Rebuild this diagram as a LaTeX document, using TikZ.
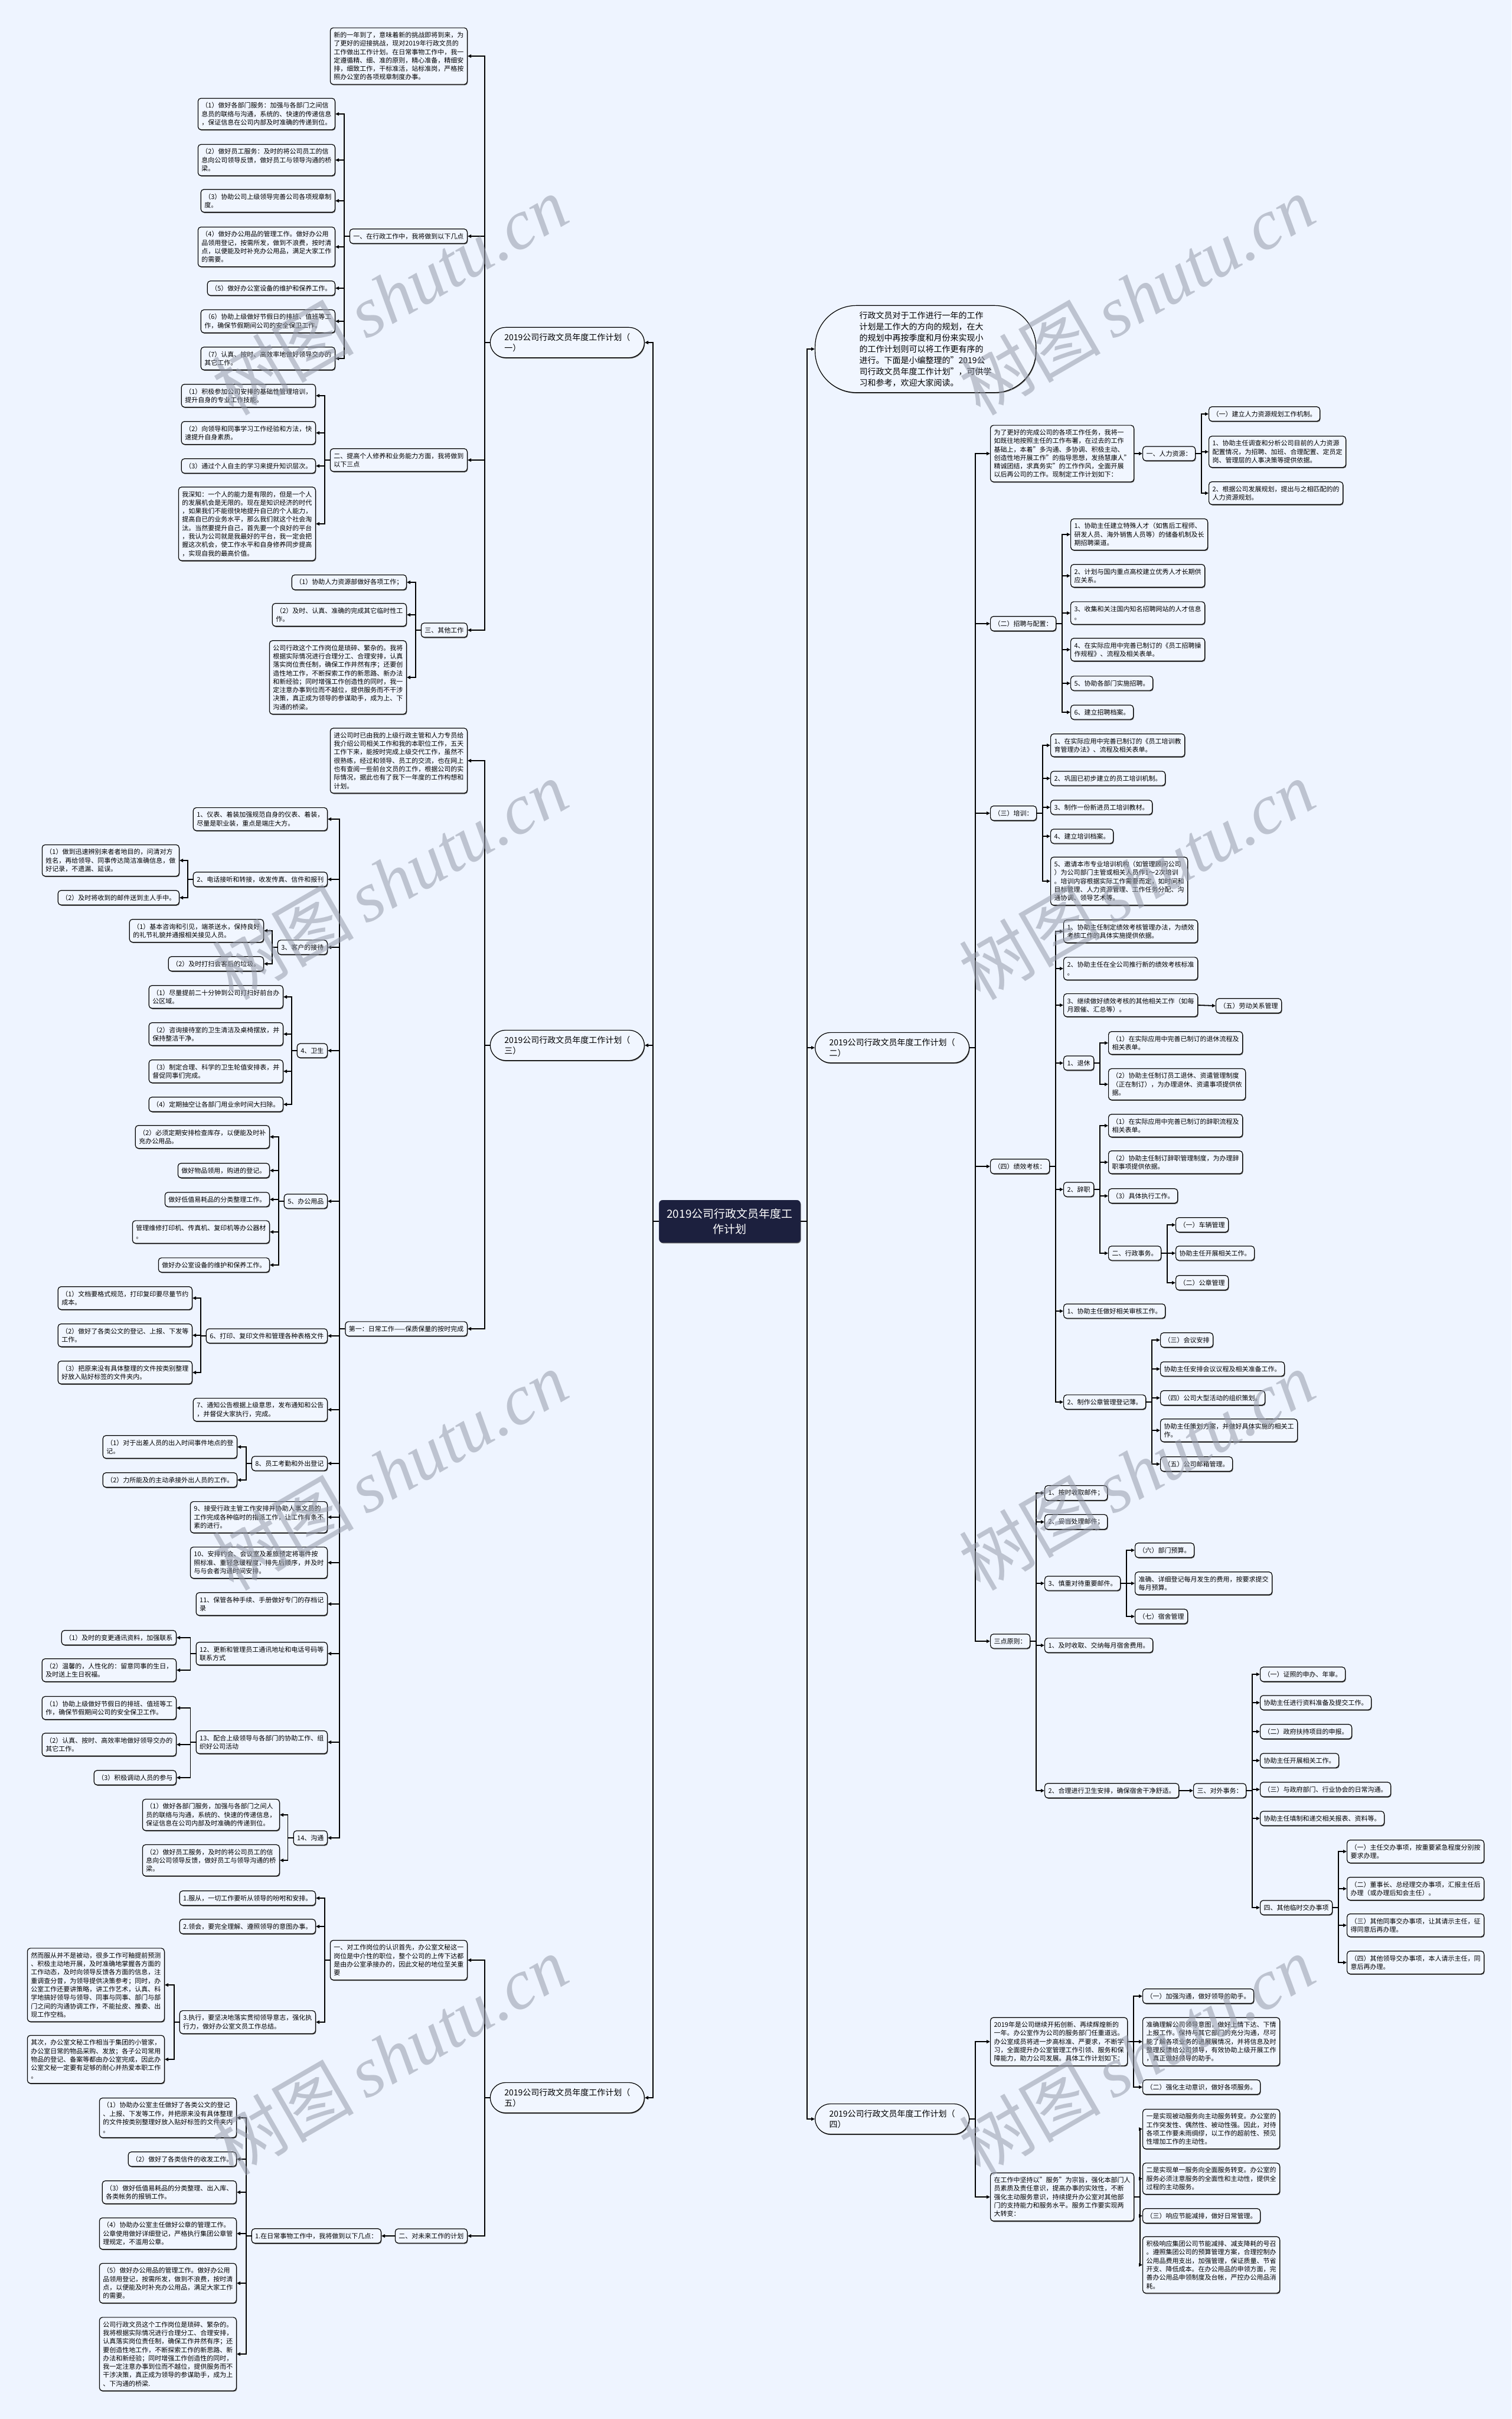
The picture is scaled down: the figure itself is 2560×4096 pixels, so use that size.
\documentclass[tikz,border=0pt]{standalone}
\usepackage{fontspec}
\setmainfont{Noto Sans CJK SC}
\newfontfamily\wmlat{Liberation Serif}
\usetikzlibrary{arrows.meta,shadows}
\definecolor{bgc}{RGB}{238,244,255}
\definecolor{nodefill}{RGB}{241,246,255}
\definecolor{rootc}{RGB}{28,32,62}
\definecolor{wmc}{RGB}{150,156,170}
\tikzset{
 box/.style={draw=black, line width=1.2pt, rounded corners=5pt, fill=nodefill, inner xsep=6pt, inner ysep=7pt, align=left, font=\fontsize{11}{14.3}\selectfont, drop shadow={shadow xshift=1pt, shadow yshift=-1.5pt, fill=black!60, opacity=1}},
 stad/.style={box, rounded corners=26pt, inner xsep=24pt, inner ysep=10pt, font=\fontsize{14}{18}\selectfont},
 rootbox/.style={draw=rootc, fill=rootc, text=white, rounded corners=6pt, inner xsep=13pt, inner ysep=14pt, align=center, font=\fontsize{19}{26}\selectfont, drop shadow={shadow xshift=1pt, shadow yshift=-1.5pt, fill=black!60, opacity=1}},
 conn/.style={line width=1.8pt, -{Triangle[length=6pt,width=5.5pt]}},
 wm/.style={rotate=30, text=wmc, opacity=0.55, font=\fontsize{120}{120}\selectfont},
}
\newcommand\Lbx[4]{\node[box,anchor=east] (#1) at (#2,#3) {#4};}
\newcommand\Rbx[4]{\node[box,anchor=west] (#1) at (#2,#3) {#4};}
\newcommand\Lcn[2]{\draw[conn] (#1.west) -- ++(-9,0) |- (#2.east);}
\newcommand\Rcn[2]{\draw[conn] (#1.east) -- ++(10,0) |- (#2.west);}
\begin{document}
\begin{tikzpicture}[x=1pt,y=-1pt]
\fill[bgc] (0,0) rectangle (2560,4096);
\useasboundingbox (0,0) rectangle (2560,4096);

% root
\node[rootbox] (root) at (1236,2068) {2019公司行政文员年度工\\作计划};

% ===== LEFT (一) =====
\node[stad,anchor=east] (L1) at (1092,580) {2019公司行政文员年度工作计划（\\一）};
\Lbx{L1a}{792}{95}{新的一年到了，意味着新的挑战即将到来，为\\了更好的迎接挑战，现对2019年行政文员的\\工作做出工作计划。在日常事物工作中，我一\\定遵循精、细、准的原则，精心准备，精细安\\排，细致工作，干标准活，站标准岗，严格按\\照办公室的各项规章制度办事。}
\Lbx{L1b}{792}{400}{一、在行政工作中，我将做到以下几点}
\Lbx{L1b1}{568}{193}{（1）做好各部门服务：加强与各部门之间信\\息员的联络与沟通，系统的、快速的传递信息\\，保证信息在公司内部及时准确的传递到位。}
\Lbx{L1b2}{568}{271}{（2）做好员工服务：及时的将公司员工的信\\息向公司领导反馈，做好员工与领导沟通的桥\\梁。}
\Lbx{L1b3}{568}{340}{（3）协助公司上级领导完善公司各项规章制\\度。}
\Lbx{L1b4}{568}{418}{（4）做好办公用品的管理工作。做好办公用\\品领用登记，按需所发，做到不浪费，按时清\\点，以便能及时补充办公用品，满足大家工作\\的需要。}
\Lbx{L1b5}{568}{488}{（5）做好办公室设备的维护和保养工作。}
\Lbx{L1b6}{568}{544}{（6）协助上级做好节假日的排班、值班等工\\作，确保节假期间公司的安全保卫工作。}
\Lbx{L1b7}{568}{607}{（7）认真、按时、高效率地做好领导交办的\\其它工作。}
\Lbx{L1c}{792}{779}{二、提高个人修养和业务能力方面，我将做到\\以下三点}
\Lbx{L1c1}{535}{670}{（1）积极参加公司安排的基础性管理培训，\\提升自身的专业工作技能。}
\Lbx{L1c2}{535}{733}{（2）向领导和同事学习工作经验和方法，快\\速提升自身素质。}
\Lbx{L1c3}{535}{789}{（3）通过个人自主的学习来提升知识层次。}
\Lbx{L1c4}{535}{887}{我深知：一个人的能力是有限的，但是一个人\\的发展机会是无限的。现在是知识经济的时代\\，如果我们不能很快地提升自已的个人能力，\\提高自已的业务水平，那么我们就这个社会淘\\汰。当然要提升自己，首先要一个良好的平台\\，我认为公司就是我最好的平台，我一定会把\\握这次机会，使工作水平和自身修养同步提高\\，实现自我的最高价值。}
\Lbx{L1d}{792}{1067}{三、其他工作}
\Lbx{L1d1}{689}{986}{（1）协助人力资源部做好各项工作；}
\Lbx{L1d2}{689}{1041}{（2）及时、认真、准确的完成其它临时性工\\作。}
\Lbx{L1d3}{689}{1147}{公司行政这个工作岗位是琐碎、繁杂的。我将\\根据实际情况进行合理分工、合理安排，认真\\落实岗位责任制，确保工作井然有序；还要创\\造性地工作，不断探索工作的新思路、新办法\\和新经验；同时增强工作创造性的同时，我一\\定注意办事到位而不越位，提供服务而不干涉\\决策，真正成为领导的参谋助手，成为上、下\\沟通的桥梁。}

% ===== LEFT (三) =====
\node[stad,anchor=east] (L3) at (1092,1770) {2019公司行政文员年度工作计划（\\三）};
\Lbx{L3a}{792}{1288}{进公司时已由我的上级行政主管和人力专员给\\我介绍公司相关工作和我的本职位工作，五天\\工作下来，能按时完成上级交代工作，虽然不\\很熟练，经过和领导、员工的交流，也在网上\\也有查阅一些前台文员的工作，根据公司的实\\际情况，据此也有了我下一年度的工作构想和\\计划。}
\Lbx{L3b}{792}{2250}{第一：日常工作——保质保量的按时完成}
\Lbx{b1}{555}{1387}{1、仪表、着装加强规范自身的仪表、着装，\\尽量是职业装，重点是端庄大方。}
\Lbx{b2}{555}{1489}{2、电话接听和转接，收发传真、信件和报刊}
\Lbx{b2a}{304}{1457}{（1）做到迅速辨别来者者地目的，问清对方\\姓名，再给领导、同事传达简洁准确信息，做\\好记录，不遗漏、延误。}
\Lbx{b2b}{304}{1520}{（2）及时将收到的邮件送到主人手中。}
\Lbx{b3}{555}{1604}{3、客户的接待}
\Lbx{b3a}{447}{1576}{（1）基本咨询和引见，端茶送水，保持良好\\的礼节礼貌并通报相关接见人员。}
\Lbx{b3b}{447}{1632}{（2）及时打扫会客后的垃圾。}
\Lbx{b4}{555}{1779}{4、卫生}
\Lbx{b4a}{480}{1688}{（1）尽量提前二十分钟到公司打扫好前台办\\公区域。}
\Lbx{b4b}{480}{1751}{（2）咨询接待室的卫生清洁及桌椅摆放，并\\保持整洁干净。}
\Lbx{b4c}{480}{1814}{（3）制定合理、科学的卫生轮值安排表，并\\督促同事们完成。}
\Lbx{b4d}{480}{1870}{（4）定期抽空让各部门用业余时间大扫除。}
\Lbx{b5}{555}{2034}{5、办公用品}
\Lbx{b5a}{457}{1925}{（2）必须定期安排检查库存，以便能及时补\\充办公用品。}
\Lbx{b5b}{457}{1982}{做好物品领用，购进的登记。}
\Lbx{b5c}{457}{2031}{做好低值易耗品的分类整理工作。}
\Lbx{b5d}{457}{2086}{管理维修打印机、传真机、复印机等办公器材\\。}
\Lbx{b5e}{457}{2142}{做好办公室设备的维护和保养工作。}
\Lbx{b6}{555}{2262}{6、打印、复印文件和管理各种表格文件}
\Lbx{b6a}{326}{2198}{（1）文档要格式规范，打印复印要尽量节约\\成本。}
\Lbx{b6b}{326}{2261}{（2）做好了各类公文的登记、上报、下发等\\工作。}
\Lbx{b6c}{326}{2324}{（3）把原来没有具体整理的文件按类别整理\\好放入贴好标签的文件夹内。}
\Lbx{b7}{555}{2387}{7、通知公告根据上级意思，发布通知和公告\\，并督促大家执行，完成。}
\Lbx{b8}{555}{2478}{8、员工考勤和外出登记}
\Lbx{b8a}{402}{2450}{（1）对于出差人员的出入时间事件地点的登\\记。}
\Lbx{b8b}{402}{2506}{（2）力所能及的主动承接外出人员的工作。}
\Lbx{b9}{555}{2569}{9、接受行政主管工作安排并协助人事文员的\\工作完成各种临时的指派工作，让工作有条不\\紊的进行。}
\Lbx{b10}{555}{2646}{10、安排约会、会议室及差旅预定将事件按\\照标准、重轻急缓程度，排先后顺序，并及时\\与与会者沟通时间安排。}
\Lbx{b11}{555}{2716}{11、保管各种手续、手册做好专门的存档记\\录}
\Lbx{b12}{555}{2800}{12、更新和管理员工通讯地址和电话号码等\\联系方式}
\Lbx{b12a}{299}{2773}{（1）及时的变更通讯资料，加强联系}
\Lbx{b12b}{299}{2828}{（2）温馨的，人性化的：留意同事的生日，\\及时送上生日祝福。}
\Lbx{b13}{555}{2950}{13、配合上级领导与各部门的协助工作、组\\织好公司活动}
\Lbx{b13a}{299}{2892}{（1）协助上级做好节假日的排班、值班等工\\作，确保节假期间公司的安全保卫工作。}
\Lbx{b13b}{299}{2954}{（2）认真、按时、高效率地做好领导交办的\\其它工作。}
\Lbx{b13c}{299}{3010}{（3）积极调动人员的参与}
\Lbx{b14}{555}{3112}{14、沟通}
\Lbx{b14a}{474}{3073}{（1）做好各部门服务，加强与各部门之间人\\员的联络与沟通，系统的、快速的传递信息，\\保证信息在公司内部及时准确的传递到位。}
\Lbx{b14b}{474}{3150}{（2）做好员工服务，及时的将公司员工的信\\息向公司领导反馈，做好员工与领导沟通的桥\\梁。}

% ===== LEFT (五) =====
\node[stad,anchor=east] (L5) at (1092,3552) {2019公司行政文员年度工作计划（\\五）};
\Lbx{L5a}{792}{3319}{一、对工作岗位的认识首先，办公室文秘这一\\岗位是中介性的职位，整个公司的上传下达都\\是由办公室承接办的，因此文秘的地位至关重\\要}
\Lbx{L5a1}{535}{3214}{1.服从，一切工作要听从领导的吩咐和安排。}
\Lbx{L5a2}{535}{3262}{2.领会，要完全理解、遵照领导的意图办事。}
\Lbx{L5a3}{535}{3424}{3.执行，要坚决地落实贯彻领导意志，强化执\\行力，做好办公室文员工作总结。}
\Lbx{L5a3a}{279}{3361}{然而服从并不是被动，很多工作可釉提前预测\\、积极主动地开展，及时准确地掌握各方面的\\工作动态，及时向领导反馈各方面的信息，注\\重调查分昔，为领导提供决策参考；同时，办\\公室工作还要讲策略，讲工作艺术，认真、科\\学地搞好领导与领导、同事与同事、部门与部\\门之间的沟通协调工作，不能扯皮、推委、出\\现工作空档。}
\Lbx{L5a3b}{279}{3487}{其次，办公室文秘工作相当于集团的小管家，\\办公室日常的物品采购、发放；各子公司常用\\物品的登记、备案等都由办公室完成，因此办\\公室文秘一定要有足够的耐心并热爱本职工作\\。}
\Lbx{L5b}{792}{3786}{二、对未来工作的计划}
\Lbx{L5b1}{646}{3786}{1.在日常事物工作中，我将做到以下几点：}
\Lbx{L5b1a}{401}{3586}{（1）协助办公室主任做好了各类公文的登记\\、上报、下发等工作，并把原来没有具体整理\\的文件按类别整理好放入贴好标签的文件夹内\\。}
\Lbx{L5b1b}{401}{3656}{（2）做好了各类信件的收发工作。}
\Lbx{L5b1c}{401}{3712}{（3）做好低值易耗品的分类整理、出入库、\\各类帐务的报销工作。}
\Lbx{L5b1d}{401}{3782}{（4）协助办公室主任做好公章的管理工作。\\公章使用做好详细登记，严格执行集团公章管\\理规定，不滥用公章。}
\Lbx{L5b1e}{401}{3866}{（5）做好办公用品的管理工作。做好办公用\\品领用登记，按需所发，做到不浪费，按时清\\点，以便能及时补充办公用品，满足大家工作\\的需要。}
\Lbx{L5b1f}{401}{3986}{公司行政文员这个工作岗位是琐碎、繁杂的。\\我将根据实际情况进行合理分工、合理安排，\\认真落实岗位责任制，确保工作井然有序；还\\要创造性地工作，不断探索工作的新思路、新\\办法和新经验；同时增强工作创造性的同时，\\我一定注意办事到位而不越位，提供服务而不\\干涉决策，真正成为领导的参谋助手，成为上\\、下沟通的桥梁.}

% ===== RIGHT intro =====
\node[box,anchor=west,rounded corners=70pt,inner xsep=75pt,inner ysep=10pt,font=\fontsize{14}{19}\selectfont] (R0) at (1380,591) {行政文员对于工作进行一年的工作\\计划是工作大的方向的规划，在大\\的规划中再按季度和月份来实现小\\的工作计划则可以将工作更有序的\\进行。下面是小编整理的"2019公\\司行政文员年度工作计划"，可供学\\习和参考，欢迎大家阅读。};

% ===== RIGHT (二) =====
\node[stad,anchor=west] (R2) at (1380,1774) {2019公司行政文员年度工作计划（\\二）};
\Rbx{R2a}{1677}{768}{为了更好的完成公司的各项工作任务，我将一\\如既往地按照主任的工作布署，在过去的工作\\基础上，本着"多沟通、多协调、积极主动、\\创造性地开展工作"的指导思想，发扬慧康人"\\精诚团结，求真务实"的工作作风，全面开展\\以后再公司的工作。现制定工作计划如下：}
\Rbx{R2a1}{1935}{768}{一、人力资源：}
\Rbx{R2a1a}{2047}{701}{（一）建立人力资源规划工作机制。}
\Rbx{R2a1b}{2047}{765}{1、协助主任调查和分析公司目前的人力资源\\配置情况，为招聘、加班、合理配置、定员定\\岗、管理层的人事决策等提供依据。}
\Rbx{R2a1c}{2047}{835}{2、根据公司发展规划，提出与之相匹配的的\\人力资源规划。}
\Rbx{R2b}{1677}{1056}{（二）招聘与配置：}
\Rbx{R2b1}{1813}{905}{1、协助主任建立特殊人才（如售后工程师、\\研发人员、海外销售人员等）的储备机制及长\\期招聘渠道。}
\Rbx{R2b2}{1813}{975}{2、计划与国内重点高校建立优秀人才长期供\\应关系。}
\Rbx{R2b3}{1813}{1038}{3、收集和关注国内知名招聘网站的人才信息\\。}
\Rbx{R2b4}{1813}{1100}{4、在实际应用中完善已制订的《员工招聘操\\作规程》、流程及相关表单。}
\Rbx{R2b5}{1813}{1157}{5、协助各部门实施招聘。}
\Rbx{R2b6}{1813}{1206}{6、建立招聘档案。}
\Rbx{R2c}{1677}{1377}{（三）培训：}
\Rbx{R2c1}{1779}{1262}{1、在实际应用中完善已制订的《员工培训教\\育管理办法》、流程及相关表单。}
\Rbx{R2c2}{1779}{1318}{2、巩固已初步建立的员工培训机制。}
\Rbx{R2c3}{1779}{1367}{3、制作一份新进员工培训教材。}
\Rbx{R2c4}{1779}{1416}{4、建立培训档案。}
\Rbx{R2c5}{1779}{1492}{5、邀请本市专业培训机构（如管理顾问公司\\）为公司部门主管或相关人员作1～2次培训\\。培训内容根据实际工作需要而定，如时间和\\目标管理、人力资源管理、工作任务分配、沟\\通协调、领导艺术等。}
\Rbx{R2d}{1677}{1975}{（四）绩效考核：}
\Rbx{R2d1}{1801}{1577}{1、协助主任制定绩效考核管理办法，为绩效\\考核工作的具体实施提供依据。}
\Rbx{R2d2}{1801}{1640}{2、协助主任在全公司推行新的绩效考核标准\\。}
\Rbx{R2d3}{1801}{1702}{3、继续做好绩效考核的其他相关工作（如每\\月跟催、汇总等）。}
\Rbx{R2d3a}{2059}{1703}{（五）劳动关系管理}
\Rbx{R2d4}{1801}{1800}{1、退休}
\Rbx{R2d4a}{1877}{1766}{（1）在实际应用中完善已制订的退休流程及\\相关表单。}
\Rbx{R2d4b}{1877}{1836}{（2）协助主任制订员工退休、资遣管理制度\\（正在制订），为办理退休、资遣事项提供依\\据。}
\Rbx{R2d5}{1801}{2014}{2、辞职}
\Rbx{R2d5a}{1877}{1906}{（1）在实际应用中完善已制订的辞职流程及\\相关表单。}
\Rbx{R2d5b}{1877}{1968}{（2）协助主任制订辞职管理制度，为办理辞\\职事项提供依据。}
\Rbx{R2d5c}{1877}{2025}{（3）具体执行工作。}
\Rbx{R2d5d}{1877}{2122}{二、行政事务。}
\Rbx{R2d5d1}{1991}{2074}{（一）车辆管理}
\Rbx{R2d5d2}{1991}{2122}{协助主任开展相关工作。}
\Rbx{R2d5d3}{1991}{2172}{（二）公章管理}
\Rbx{R2d6}{1801}{2220}{1、协助主任做好相关审核工作。}
\Rbx{R2d7}{1801}{2374}{2、制作公章管理登记薄。}
\Rbx{R2d7a}{1965}{2269}{（三）会议安排}
\Rbx{R2d7b}{1965}{2318}{协助主任安排会议议程及相关准备工作。}
\Rbx{R2d7c}{1965}{2367}{（四）公司大型活动的组织策划。}
\Rbx{R2d7d}{1965}{2422}{协助主任策划方案，并做好具体实施的相关工\\作。}
\Rbx{R2d7e}{1965}{2479}{（五）公司邮箱管理。}
\Rbx{R2e}{1677}{2779}{三点原则：}
\Rbx{R2e1}{1769}{2528}{1、按时收取邮件；}
\Rbx{R2e2}{1769}{2577}{2、妥当处理邮件；}
\Rbx{R2e3}{1769}{2681}{3、慎重对待重要邮件。}
\Rbx{R2e3a}{1922}{2625}{（六）部门预算。}
\Rbx{R2e3b}{1922}{2681}{准确、详细登记每月发生的费用，按要求提交\\每月预算。}
\Rbx{R2e3c}{1922}{2737}{（七）宿舍管理}
\Rbx{R2e4}{1769}{2786}{1、及时收取、交纳每月宿舍费用。}
\Rbx{R2e5}{1769}{3032}{2、合理进行卫生安排，确保宿舍干净舒适。}
\Rbx{R2e5a}{2021}{3032}{三、对外事务：}
\Rbx{R2f1}{2134}{2835}{（一）证照的申办、年审。}
\Rbx{R2f2}{2134}{2883}{协助主任进行资料准备及提交工作。}
\Rbx{R2f3}{2134}{2932}{（二）政府扶持项目的申报。}
\Rbx{R2f4}{2134}{2981}{协助主任开展相关工作。}
\Rbx{R2f5}{2134}{3030}{（三）与政府部门、行业协会的日常沟通。}
\Rbx{R2f6}{2134}{3079}{协助主任填制和递交相关报表、资料等。}
\Rbx{R2f7}{2134}{3230}{四、其他临时交办事项}
\Rbx{R2g1}{2281}{3135}{（一）主任交办事项，按重要紧急程度分别按\\要求办理。}
\Rbx{R2g2}{2281}{3198}{（二）董事长、总经理交办事项，汇报主任后\\办理（或办理后知会主任）。}
\Rbx{R2g3}{2281}{3260}{（三）其他同事交办事项，让其请示主任，征\\得同意后再办理。}
\Rbx{R2g4}{2281}{3323}{（四）其他领导交办事项，本人请示主任，同\\意后再办理。}

% ===== RIGHT (四) =====
\node[stad,anchor=west] (R4) at (1380,3588) {2019公司行政文员年度工作计划（\\四）};
\Rbx{R4a}{1677}{3457}{2019年是公司继续开拓创新、再续辉煌新的\\一年。办公室作为公司的服务部门任重道远。\\办公室成员将进一步高标准、严要求，不断学\\习，全面提升办公室管理工作引领、服务和保\\障能力，助力公司发展。具体工作计划如下：}
\Rbx{R4a1}{1935}{3380}{（一）加强沟通，做好领导的助手。}
\Rbx{R4a2}{1935}{3457}{准确理解公司领导意图，做好上情下达、下情\\上报工作。保持与其它部门的充分沟通，尽可\\能了解各项业务的进展展情况，并将信息及时\\整理反馈给公司领导，有效协助上级开展工作\\，真正做好领导的助手。}
\Rbx{R4a3}{1935}{3534}{（二）强化主动意识，做好各项服务。}
\Rbx{R4b}{1677}{3720}{在工作中坚持以"服务"为宗旨，强化本部门人\\员素质及责任意识，提高办事的实效性，不断\\强化主动服务意识，持续提升办公室对其他部\\门的支持能力和服务水平。服务工作要实现两\\大转变：}
\Rbx{R4b1}{1935}{3605}{一是实现被动服务向主动服务转变。办公室的\\工作突发性、偶然性、被动性强。因此，对待\\各项工作要未雨绸缪，以工作的超前性、预见\\性增加工作的主动性。}
\Rbx{R4b2}{1935}{3689}{二是实现单一服务向全面服务转变。办公室的\\服务必须注意服务的全面性和主动性，提供全\\过程的主动服务。}
\Rbx{R4b3}{1935}{3752}{（三）响应节能减排，做好日常管理。}
\Rbx{R4b4}{1935}{3835}{积极响应集团公司节能减排、减支降耗的号召\\。遵照集团公司的预算管理方案，合理控制办\\公用品费用支出，加强管理，保证质量、节省\\开支、降低成本。在办公用品的申领方面，完\\善办公用品申领制度及台帐，严控办公用品消\\耗。}

% ===== connectors =====
\foreach \c in {L1,L3,L5} {\draw[conn] (root.west) -- ++(-10,0) |- (\c.east);}
\foreach \c in {R0,R2,R4} {\draw[conn] (root.east) -- ++(11,0) |- (\c.west);}
\foreach \c in {L1a,L1b,L1c,L1d} {\Lcn{L1}{\c}}
\foreach \c in {L1b1,L1b2,L1b3,L1b4,L1b5,L1b6,L1b7} {\Lcn{L1b}{\c}}
\foreach \c in {L1c1,L1c2,L1c3,L1c4} {\Lcn{L1c}{\c}}
\foreach \c in {L1d1,L1d2,L1d3} {\Lcn{L1d}{\c}}
\foreach \c in {L3a,L3b} {\Lcn{L3}{\c}}
\foreach \c in {b1,b2,b3,b4,b5,b6,b7,b8,b9,b10,b11,b12,b13,b14} {\Lcn{L3b}{\c}}
\foreach \c in {b2a,b2b} {\Lcn{b2}{\c}}
\foreach \c in {b3a,b3b} {\Lcn{b3}{\c}}
\foreach \c in {b4a,b4b,b4c,b4d} {\Lcn{b4}{\c}}
\foreach \c in {b5a,b5b,b5c,b5d,b5e} {\Lcn{b5}{\c}}
\foreach \c in {b6a,b6b,b6c} {\Lcn{b6}{\c}}
\foreach \c in {b8a,b8b} {\Lcn{b8}{\c}}
\foreach \c in {b12a,b12b} {\Lcn{b12}{\c}}
\foreach \c in {b13a,b13b,b13c} {\Lcn{b13}{\c}}
\foreach \c in {b14a,b14b} {\Lcn{b14}{\c}}
\foreach \c in {L5a,L5b} {\Lcn{L5}{\c}}
\foreach \c in {L5a1,L5a2,L5a3} {\Lcn{L5a}{\c}}
\foreach \c in {L5a3a,L5a3b} {\Lcn{L5a3}{\c}}
\draw[conn] (L5b.west) -- (L5b1.east);
\foreach \c in {L5b1a,L5b1b,L5b1c,L5b1d,L5b1e,L5b1f} {\Lcn{L5b1}{\c}}
\foreach \c in {R2a,R2b,R2c,R2d,R2e} {\Rcn{R2}{\c}}
\draw[conn] (R2a.east) -- (R2a1.west);
\foreach \c in {R2a1a,R2a1b,R2a1c} {\Rcn{R2a1}{\c}}
\foreach \c in {R2b1,R2b2,R2b3,R2b4,R2b5,R2b6} {\Rcn{R2b}{\c}}
\foreach \c in {R2c1,R2c2,R2c3,R2c4,R2c5} {\Rcn{R2c}{\c}}
\foreach \c in {R2d1,R2d2,R2d3,R2d4,R2d5,R2d6,R2d7} {\Rcn{R2d}{\c}}
\draw[conn] (R2d3.east) -- (R2d3a.west);
\foreach \c in {R2d4a,R2d4b} {\Rcn{R2d4}{\c}}
\foreach \c in {R2d5a,R2d5b,R2d5c,R2d5d} {\Rcn{R2d5}{\c}}
\foreach \c in {R2d5d1,R2d5d2,R2d5d3} {\Rcn{R2d5d}{\c}}
\foreach \c in {R2d7a,R2d7b,R2d7c,R2d7d,R2d7e} {\Rcn{R2d7}{\c}}
\foreach \c in {R2e1,R2e2,R2e3,R2e4,R2e5} {\Rcn{R2e}{\c}}
\foreach \c in {R2e3a,R2e3b,R2e3c} {\Rcn{R2e3}{\c}}
\draw[conn] (R2e5.east) -- (R2e5a.west);
\foreach \c in {R2f1,R2f2,R2f3,R2f4,R2f5,R2f6,R2f7} {\Rcn{R2e5a}{\c}}
\foreach \c in {R2g1,R2g2,R2g3,R2g4} {\Rcn{R2f7}{\c}}
\foreach \c in {R4a,R4b} {\Rcn{R4}{\c}}
\foreach \c in {R4a1,R4a2,R4a3} {\Rcn{R4a}{\c}}
\foreach \c in {R4b1,R4b2,R4b3,R4b4} {\Rcn{R4b}{\c}}

% ===== watermarks =====
\foreach \wx in {660,1925} {
 \foreach \wy in {500,1490,2490,3480} {
  \node[wm] at (\wx,\wy) {树图\,{\wmlat\itshape shutu.cn}};
 }
}
\end{tikzpicture}
\end{document}
